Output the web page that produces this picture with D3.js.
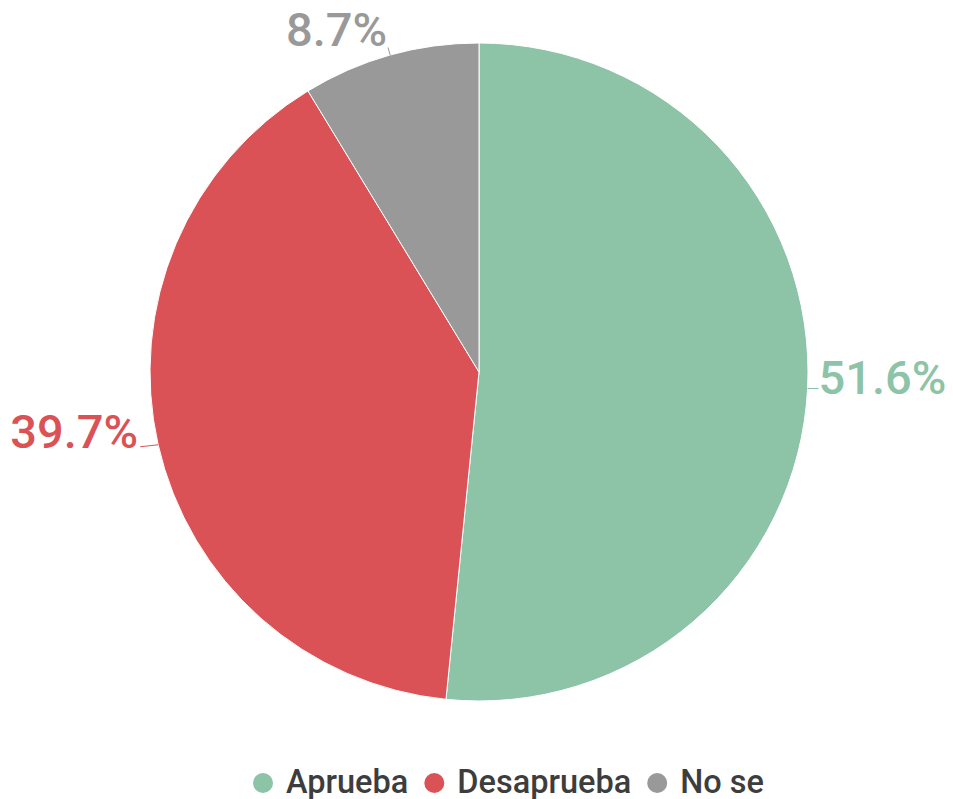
<!DOCTYPE html>
<html>
<head>
<meta charset="utf-8">
<script src="https://cdn.jsdelivr.net/npm/d3@7"></script>
<style>
  body { margin: 0; background: #fff; }
  svg { display: block; font-family: Roboto, "Noto Sans", sans-serif; }
</style>
</head>
<body>
<svg id="chart" width="953" height="799"></svg>
<script>
let categories = ["Aprueba", "Desaprueba", "No se"];
let values = [51.6, 39.7, 8.7];
let colors = ["#8dc3a7", "#db5256", "#999999"];

let width = 953, height = 799;
let cx = 479, cy = 372, radius = 329;

let svg = d3.select("#chart");
let color = d3.scaleOrdinal().domain(categories).range(colors);

let data = categories.map((c, i) => ({ name: c, value: values[i] }));

let pie = d3.pie().sort(null).value(d => d.value);
let arcs = pie(data);
let arc = d3.arc().innerRadius(0).outerRadius(radius);

let g = svg.append("g").attr("transform", `translate(${cx},${cy})`);

g.selectAll("path.slice")
    .data(arcs)
    .enter().append("path")
    .attr("class", "slice")
    .attr("d", arc)
    .attr("fill", d => color(d.data.name))
    .attr("stroke", "#fff")
    .attr("stroke-width", 1);

// leader lines + labels from the mid angle of each slice
function pt(a, r) { return [r * Math.sin(a), -r * Math.cos(a)]; }

arcs.forEach(d => {
    let a = (d.startAngle + d.endAngle) / 2;
    let p0 = pt(a, radius);
    let side = Math.abs(Math.sin(a)) > 0.5;
    let right = Math.sin(a) > 0;
    let p1 = side ? [p0[0] + (right ? 11 : -18), p0[1] + (right ? 0 : 2)] : pt(a, radius + 8);
    g.append("line")
        .attr("x1", p0[0]).attr("y1", p0[1])
        .attr("x2", p1[0]).attr("y2", p1[1])
        .attr("stroke", color(d.data.name))
        .attr("stroke-width", 1);
    g.append("text")
        .attr("x", side ? p1[0] + (right ? 0 : -2) : p1[0] - 1)
        .attr("y", side ? p1[1] + (right ? 5 : 1) : p1[1] - 2)
        .attr("text-anchor", right ? "start" : "end")
        .attr("fill", color(d.data.name))
        .attr("font-size", 47)
        .attr("font-weight", 500)
        .text(d3.format(".1f")(d.data.value) + "%");
});

// legend
let legend = svg.append("g").attr("transform", "translate(0,783)");
let x = 263;
categories.forEach((c, i) => {
    legend.append("circle")
        .attr("cx", x)
        .attr("cy", 0)
        .attr("r", 10)
        .attr("fill", color(c));
    let t = legend.append("text")
        .attr("x", x + 23)
        .attr("y", 9.5)
        .attr("font-size", 32.5)
        .attr("font-weight", 500)
        .attr("fill", "#3d3d3d")
        .text(c);
    x += 23 + t.node().getComputedTextLength() + 26;
});
</script>
</body>
</html>
